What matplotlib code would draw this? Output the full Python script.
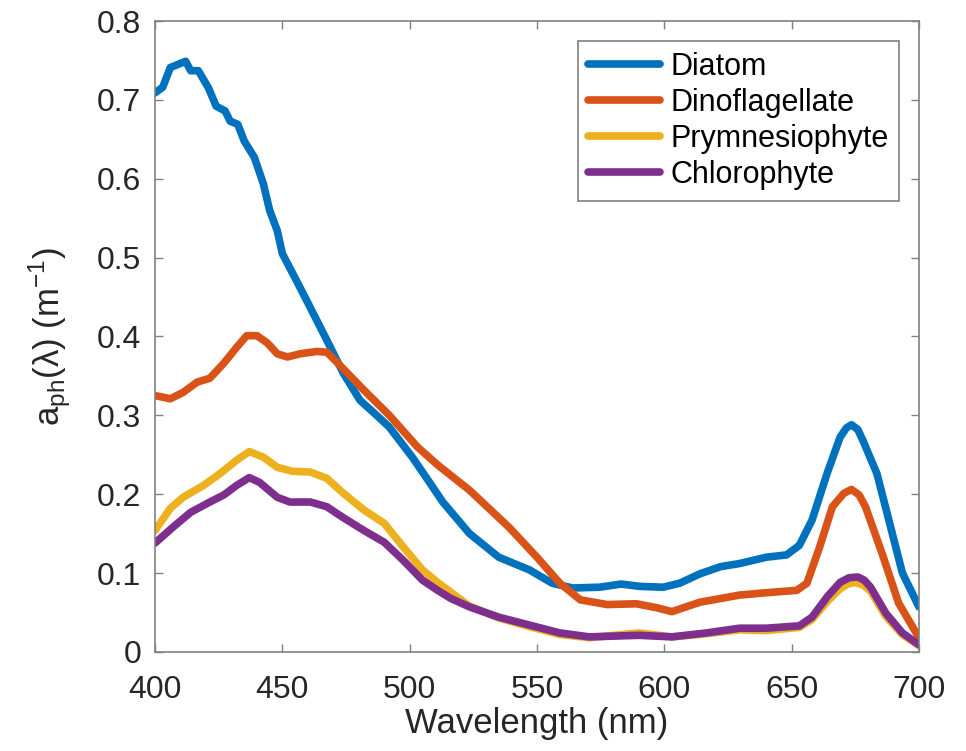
import matplotlib
matplotlib.use("Agg")
import matplotlib.pyplot as plt

plt.rcParams['font.family'] = ['Liberation Sans', 'DejaVu Sans']
plt.rcParams['mathtext.fontset'] = 'custom'
plt.rcParams['mathtext.rm'] = 'Liberation Sans'

# Absorption spectra (wavelength in nm, a_ph in 1/m)
diatom_wl = [400, 403, 406, 409, 412, 414, 417, 421, 424, 427.5, 429.5, 432.5, 435, 439, 442.5, 445, 448,
             450, 455.5, 459, 467.5, 474, 480.5, 487, 492, 501, 508, 513, 523.5, 535, 547, 556, 564,
             574.5, 583, 590.5, 599.5, 606, 614, 622, 629.5, 640, 648, 653, 658, 664, 669, 671.5, 673.5,
             676, 678, 683.5, 688.5, 693.5, 700]
diatom_val = [0.709, 0.716, 0.741, 0.745, 0.749, 0.737, 0.737, 0.715, 0.692, 0.686, 0.673, 0.669, 0.648,
              0.627, 0.594, 0.56, 0.534, 0.505, 0.471, 0.449, 0.395, 0.353, 0.319, 0.30, 0.285, 0.247,
              0.214, 0.19, 0.15, 0.12, 0.104, 0.087, 0.081, 0.082, 0.086, 0.083, 0.082, 0.087, 0.099,
              0.108, 0.112, 0.12, 0.123, 0.135, 0.167, 0.227, 0.272, 0.284, 0.288, 0.282, 0.268, 0.226,
              0.163, 0.10, 0.057]

dino_wl = [400, 406, 411, 416.5, 421.5, 427, 432, 436, 440, 444, 448, 452, 457, 463.5, 467.5, 471.5,
           482, 492, 503, 511, 523.5, 539, 550, 559, 567, 577.5, 589, 597, 603, 614, 629.5, 640, 652,
           656, 661, 666, 670.5, 673.5, 676.5, 679, 685.5, 692, 700]
dino_val = [0.325, 0.321, 0.329, 0.342, 0.347, 0.366, 0.386, 0.401, 0.401, 0.392, 0.378, 0.374, 0.378,
            0.381, 0.38, 0.367, 0.332, 0.30, 0.26, 0.237, 0.205, 0.158, 0.12, 0.087, 0.066, 0.06,
            0.061, 0.056, 0.051, 0.063, 0.072, 0.075, 0.078, 0.087, 0.133, 0.184, 0.201, 0.206, 0.199,
            0.184, 0.125, 0.062, 0.018]

prym_wl = [400, 406, 411, 419, 425.5, 432, 437, 442.5, 448, 454, 461, 467.5, 474, 482, 490, 497.5,
           505, 511, 516, 523.5, 535, 547, 559, 570.5, 590, 603, 616.5, 629.5, 640, 653, 658, 664,
           669, 672, 675, 678, 681, 687, 693.5, 700]
prym_val = [0.154, 0.182, 0.196, 0.211, 0.226, 0.243, 0.254, 0.247, 0.234, 0.229, 0.228, 0.22, 0.201,
            0.18, 0.163, 0.133, 0.104, 0.088, 0.076, 0.058, 0.043, 0.032, 0.022, 0.018, 0.024, 0.019,
            0.023, 0.028, 0.027, 0.031, 0.041, 0.064, 0.080, 0.086, 0.088, 0.085, 0.077, 0.045,
            0.022, 0.008]

chloro_wl = [400, 407, 414, 421.5, 427, 432, 437, 441, 448, 453, 461, 467.5, 474, 482, 490, 497.5,
             505, 511, 516, 523.5, 535, 547, 559, 570.5, 590, 603, 616.5, 629.5, 640, 653, 658, 664,
             669, 672.5, 676, 678.5, 681, 687, 693.5, 700]
chloro_val = [0.138, 0.158, 0.177, 0.19, 0.199, 0.211, 0.221, 0.215, 0.196, 0.19, 0.19, 0.184, 0.17,
              0.154, 0.139, 0.116, 0.091, 0.078, 0.068, 0.057, 0.044, 0.034, 0.024, 0.019, 0.021,
              0.019, 0.024, 0.03, 0.03, 0.033, 0.044, 0.07, 0.088, 0.094, 0.095, 0.091, 0.082, 0.049,
              0.024, 0.009]

series = [
    ("Diatom", diatom_wl, diatom_val, "#0072BD"),
    ("Dinoflagellate", dino_wl, dino_val, "#D95319"),
    ("Prymnesiophyte", prym_wl, prym_val, "#EDB120"),
    ("Chlorophyte", chloro_wl, chloro_val, "#7E2F8E"),
]

fig = plt.figure(figsize=(9.66, 7.51), dpi=100)
ax = fig.add_axes([0.1605, 0.132, 0.7908, 0.840])

for name, wl, val, col in series:
    ax.plot(wl, val, color=col, linewidth=5.5, label=name,
            solid_capstyle='round', solid_joinstyle='round')

ax.set_xlim(400, 700)
ax.set_ylim(0, 0.8)
ax.set_xticks([400, 450, 500, 550, 600, 650, 700])
ax.set_yticks([0, 0.1, 0.2, 0.3, 0.4, 0.5, 0.6, 0.7, 0.8])
ax.set_yticklabels(['0', '0.1', '0.2', '0.3', '0.4', '0.5', '0.6', '0.7', '0.8'])

axis_gray = '#262626'
for s in ax.spines.values():
    s.set_color('#808080')
    s.set_linewidth(1.2)
ax.tick_params(direction='in', top=True, right=True, length=6, width=1.0,
               color='#808080', labelcolor=axis_gray, labelsize=23)
ax.tick_params(axis='x', pad=17)
ax.tick_params(axis='y', pad=10)

ax.set_xlabel('Wavelength (nm)', fontsize=25, color=axis_gray, labelpad=1)
ax.set_ylabel(r'a$_{\mathrm{ph}}$(λ) (m$^{-1}$)', fontsize=25, color=axis_gray, labelpad=17)

leg = ax.legend(loc='upper right', fontsize=22, handlelength=2.35, labelspacing=0.2,
                borderaxespad=0.65, fancybox=False, framealpha=1, handletextpad=0.33,
                borderpad=0.35)
leg.get_frame().set_edgecolor('#808080')
leg.get_frame().set_linewidth(1.2)

plt.savefig("out.png", dpi=100)
